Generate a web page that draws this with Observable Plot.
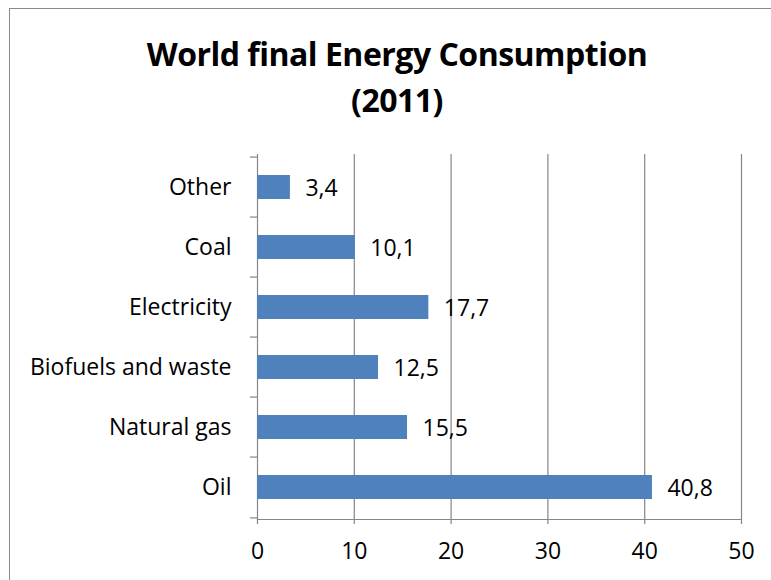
<!DOCTYPE html>
<html>
<head>
<meta charset="utf-8">
<script src="https://cdn.jsdelivr.net/npm/d3@7"></script>
<script src="https://cdn.jsdelivr.net/npm/@observablehq/plot@0.6"></script>
<style>
  html, body { margin: 0; padding: 0; background: #fff; overflow: hidden; }
  body { width: 771px; height: 580px; position: relative; font-family: "Open Sans", Lato, sans-serif; }
  #frame { position: absolute; left: 9px; top: 8px; width: 776px; height: 620px; border: 1.5px solid #8a8a8a; box-sizing: border-box; }
  #title { position: absolute; left: 9px; top: 31px; width: 776px; text-align: center; font-weight: bold; font-size: 32px; line-height: 46px; color: #000; letter-spacing: -0.5px; }
  #chart { position: absolute; left: 0; top: 150px; }
</style>
</head>
<body>
<div id="frame"></div>
<div id="title">World final Energy Consumption<br>(2011)</div>
<div id="chart"></div>
<script>
const categories = ["Other", "Coal", "Electricity", "Biofuels and waste", "Natural gas", "Oil"];
const values = [3.4, 10.1, 17.7, 12.5, 15.5, 40.8];
const xTicks = [0, 10, 20, 30, 40, 50];

const data = categories.map((c, i) => ({category: c, value: values[i]}));
const fmt = v => String(v.toFixed(1)).replace(".", ",");

const W = 771, H = 430, mT = 4, mB = 61, mL = 257, mR = 30;
const step = (H - mT - mB) / categories.length;
const gray = "#868686";

const plot = Plot.plot({
  width: W,
  height: H,
  marginTop: mT,
  marginBottom: mB,
  marginLeft: mL,
  marginRight: mR,
  style: {fontFamily: "'Open Sans', Lato, sans-serif", fontSize: "23px", color: "#000", background: "transparent"},
  x: {domain: [0, 50], ticks: xTicks},
  y: {domain: categories, paddingInner: 0.6, paddingOuter: 0.3, align: 0.5},
  marks: [
    Plot.gridX(xTicks, {stroke: gray, strokeOpacity: 1, strokeWidth: 1.2}),
    Plot.frame({anchor: "bottom", stroke: gray, strokeWidth: 1.2}),
    Plot.axisX({ticks: xTicks, tickSize: 5, tickPadding: 18, stroke: gray, strokeWidth: 1.2, fill: "#000", label: null, tickFormat: d => String(d)}),
    Plot.axisY({text: null, tickSize: 7, dy: -step / 2, stroke: gray, strokeWidth: 1.2, label: null}),
    Plot.axisY({ticks: [categories[categories.length - 1]], text: null, tickSize: 7, dy: step / 2, stroke: gray, strokeWidth: 1.2, label: null}),
    Plot.axisY({tickSize: 0, tickPadding: 26, fill: "#000", label: null}),
    Plot.barX(data, {y: "category", x: "value", fill: "#4F81BD"}),
    Plot.text(data, {y: "category", x: "value", text: d => fmt(d.value), textAnchor: "start", dx: 15, dy: 1, fill: "#000", fontSize: 23})
  ]
});
document.getElementById("chart").appendChild(plot);
</script>
</body>
</html>
